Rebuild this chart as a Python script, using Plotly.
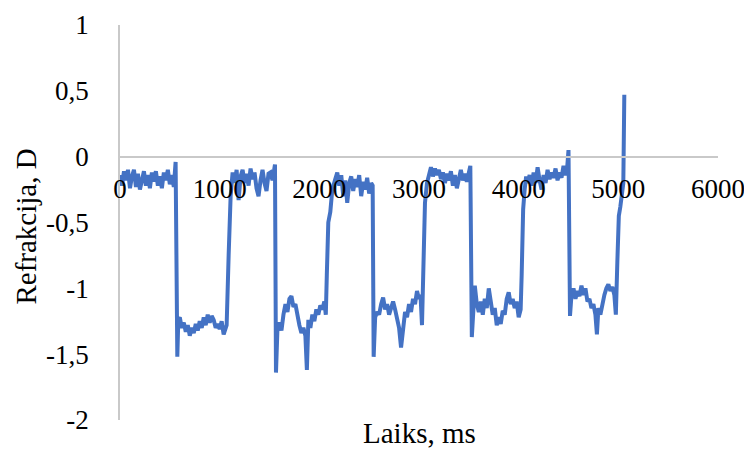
import plotly.graph_objects as go

# ---- data ----
time_ms = [
    0, 20, 40, 60, 80, 100, 120, 140, 160, 180, 200, 220, 240, 260, 280, 300, 320, 340, 360, 380,
    400, 420, 440, 460, 480, 500, 520, 540, 558,
    575, 585, 600, 620, 640, 660, 680, 700, 720, 740, 760, 780, 800, 820, 840, 860, 880, 900, 920,
    940, 960, 980, 1000, 1020, 1040, 1060, 1070,
    1090, 1110, 1130,
    1150, 1170, 1190, 1210, 1230, 1250, 1270, 1290, 1310, 1330, 1350, 1370, 1390, 1410, 1430, 1450,
    1470, 1490, 1510, 1530, 1545, 1555,
    1565, 1580, 1600, 1620, 1640, 1660, 1680, 1700, 1720, 1740, 1760, 1780, 1800, 1820, 1840, 1860,
    1875, 1890, 1910, 1930, 1950, 1970, 1990, 2010, 2030, 2050, 2065,
    2075, 2090, 2110, 2130, 2160,
    2180, 2200, 2220, 2240, 2260, 2280, 2300, 2320, 2340, 2360, 2380, 2400, 2420, 2440, 2460, 2480,
    2500, 2520, 2535,
    2545, 2560, 2580, 2600, 2620, 2640, 2660, 2680, 2700, 2720, 2740, 2760, 2780, 2800, 2820, 2840,
    2860, 2880, 2900, 2920, 2940, 2960, 2980, 3000, 3015, 3030,
    3045, 3060, 3080, 3100,
    3120, 3140, 3160, 3180, 3200, 3220, 3240, 3260, 3280, 3300, 3320, 3340, 3360, 3380, 3400, 3420,
    3440, 3460, 3480, 3500, 3515,
    3530, 3545, 3560, 3580, 3600, 3620, 3640, 3660, 3680, 3700, 3720, 3740, 3760, 3780, 3800, 3820,
    3840, 3860, 3880, 3900, 3920, 3940, 3960, 3980, 4000, 4020,
    4030, 4045, 4060, 4075,
    4090, 4110, 4130, 4150, 4170, 4190, 4210, 4230, 4250, 4270, 4290, 4310, 4330, 4350, 4370, 4390,
    4410, 4430, 4450, 4470, 4485, 4500,
    4515, 4530, 4550, 4570, 4590, 4610, 4630, 4650, 4670, 4690, 4710, 4730, 4750, 4770, 4785, 4800,
    4820, 4840, 4860, 4880, 4900, 4920, 4940, 4960, 4975,
    4990, 5005, 5020, 5035, 5050, 5060,
]

refraction_d = [
    -0.14, -0.22, -0.11, -0.18, -0.10, -0.24, -0.15, -0.10, -0.23, -0.13, -0.25, -0.16, -0.11, -0.22, -0.14, -0.24, -0.12, -0.19, -0.11, -0.22,
    -0.15, -0.24, -0.12, -0.18, -0.10, -0.21, -0.14, -0.23, -0.04,
    -1.52, -1.24, -1.22, -1.30, -1.26, -1.33, -1.28, -1.36, -1.30, -1.34, -1.27, -1.32, -1.25, -1.30, -1.22, -1.28, -1.20, -1.26, -1.21,
    -1.24, -1.30, -1.27, -1.31, -1.25, -1.35, -1.30, -1.28,
    -0.75, -0.30, -0.12,
    -0.20, -0.10, -0.33, -0.15, -0.10, -0.20, -0.13, -0.22, -0.09, -0.17, -0.12, -0.24, -0.30, -0.18, -0.10, -0.20,
    -0.26, -0.13, -0.12, -0.18, -0.10, -0.06,
    -1.64, -1.30, -1.26, -1.32, -1.20, -1.12, -1.18, -1.08, -1.06, -1.14, -1.12, -1.22, -1.28, -1.34, -1.30, -1.36,
    -1.62, -1.24, -1.30, -1.20, -1.25, -1.16, -1.20, -1.13, -1.16, -1.10, -1.20,
    -0.90, -0.50, -0.42, -0.25, -0.17,
    -0.12, -0.22, -0.14, -0.30, -0.18, -0.35, -0.20, -0.15, -0.26, -0.17, -0.23, -0.14, -0.30, -0.19, -0.25, -0.16,
    -0.28, -0.20, -0.22,
    -1.52, -1.22, -1.18, -1.20, -1.12, -1.07, -1.16, -1.12, -1.20, -1.15, -1.10, -1.16, -1.25, -1.30, -1.45, -1.30,
    -1.18, -1.22, -1.12, -1.18, -1.08, -1.12, -1.02, -1.08, -1.05, -1.28,
    -0.70, -0.35, -0.20, -0.12,
    -0.08, -0.15, -0.09, -0.14, -0.10, -0.17, -0.12, -0.20, -0.13, -0.18, -0.11, -0.22, -0.14, -0.24, -0.15, -0.10,
    -0.18, -0.13, -0.19, -0.11, -0.07,
    -1.37, -1.15, -0.98, -1.12, -1.18, -1.10, -1.20, -1.08, -1.15, -1.00, -1.12, -1.20, -1.15, -1.28, -1.22, -1.27,
    -1.17, -1.20, -1.08, -1.03, -1.12, -1.08, -1.15, -1.10, -1.22, -1.16,
    -0.90, -0.40, -0.25, -0.15,
    -0.20, -0.14, -0.22, -0.12, -0.20, -0.08, -0.18, -0.25, -0.14, -0.20, -0.10, -0.17, -0.12, -0.16, -0.09, -0.18,
    -0.12, -0.16, -0.07, -0.14, -0.10, 0.05,
    -1.21, -1.05, -1.00, -1.08, -1.02, -1.06, -0.98, -1.05, -1.00, -1.10, -1.08, -1.15, -1.12, -1.20, -1.35, -1.15,
    -1.20, -1.10, -1.05, -1.00, -0.97, -1.02, -0.99, -1.05, -1.20,
    -0.80, -0.45, -0.38, -0.30, -0.20, 0.47,
]

x_tick_vals = [0, 1000, 2000, 3000, 4000, 5000, 6000]
x_tick_text = ["0", "1000", "2000", "3000", "4000", "5000", "6000"]
y_tick_vals = [1, 0.5, 0, -0.5, -1, -1.5, -2]
y_tick_text = ["1", "0,5", "0", "-0,5", "-1", "-1,5", "-2"]

x_title = "Laiks, ms"
y_title = "Refrakcija, D"

FONT = "Liberation Serif, Times New Roman, serif"
AXIS_COLOR = "#C9C9C9"

fig = go.Figure()
fig.add_trace(go.Scatter(
    x=time_ms, y=refraction_d, mode="lines",
    line=dict(color="#4472C4", width=4),
    showlegend=False, hoverinfo="skip",
))

# the page body adds an 8px offset, so the figure is 744x446
fig.update_layout(
    width=744, height=446,
    margin=dict(l=112, r=34, t=17, b=34, autoexpand=False),
    paper_bgcolor="white", plot_bgcolor="white",
    font=dict(family=FONT, size=27, color="black"),
    showlegend=False,
    xaxis=dict(
        range=[0, 6000], anchor="free", position=2 / 3,
        tickvals=x_tick_vals, ticktext=x_tick_text,
        showgrid=False, zeroline=False, automargin=False,
        showline=True, linecolor=AXIS_COLOR, linewidth=1.5,
        ticks="", ticklabelstandoff=8,
        tickfont=dict(family=FONT, size=27, color="black"),
    ),
    yaxis=dict(
        range=[-2, 1],
        tickvals=y_tick_vals, ticktext=y_tick_text,
        showgrid=False, zeroline=False, automargin=False,
        showline=True, linecolor=AXIS_COLOR, linewidth=1.5,
        ticks="", ticklabelstandoff=24,
        tickfont=dict(family=FONT, size=27, color="black"),
    ),
    annotations=[
        dict(text=x_title, xref="paper", yref="paper", x=0.5, y=0.012,
             xanchor="center", yanchor="top", showarrow=False,
             font=dict(family=FONT, size=29, color="black")),
        dict(text=y_title, xref="paper", yref="paper", x=-0.157, y=0.49,
             xanchor="center", yanchor="middle", textangle=-90, showarrow=False,
             font=dict(family=FONT, size=29, color="black")),
    ],
)

fig.write_html("out.html")
